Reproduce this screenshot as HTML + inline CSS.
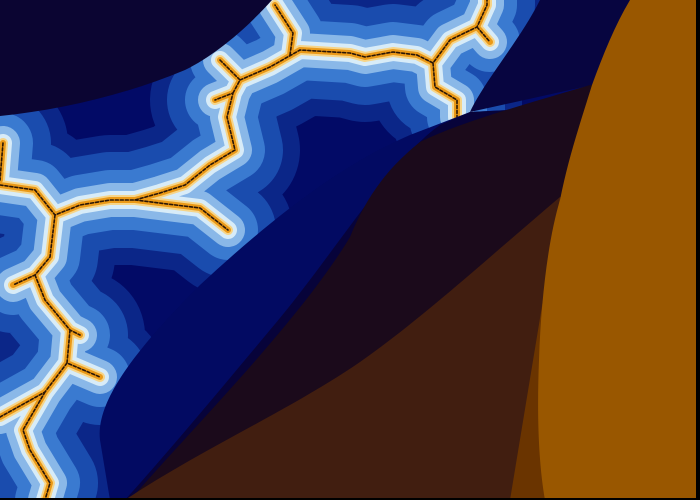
<!DOCTYPE html>
<html><head><meta charset="utf-8"><style>
html,body{margin:0;padding:0;background:#000;}
svg{display:block}
</style></head><body>
<svg width="700" height="500" viewBox="0 0 700 500">
<rect x="0" y="0" width="700" height="500" fill="#020a66"/>
<defs>
<path id="f" d="M0,185 L35,190 L55,215 L80,205 L110,200 L135,200 L160,193 L185,185 L210,165 L235,150 L227,117 L233,93 L215,100 M233,93 L240,80 L220,60 M240,80 L270,67 L300,50 L350,53 L365,57 L393,52 L417,55 L433,63 L450,40 L477,27 L487,5 L487,0 M477,27 L490,42 M433,63 L435,87 L457,100 L457,117 M290,55 L293,33 L275,5 M135,200 L200,208 L228,230 M55,215 L50,257 L35,275 L13,285 M35,275 L45,300 L70,330 L80,335 M70,330 L67,363 L100,377 M67,363 L45,392 L0,417 M45,392 L23,430 L30,450 L50,483 L45,500 M3,143 L0,180"/>
</defs>
<use href="#f" stroke="#0b2688" stroke-width="130" fill="none" stroke-linecap="round" stroke-linejoin="round"/>
<use href="#f" stroke="#1a4cae" stroke-width="96" fill="none" stroke-linecap="round" stroke-linejoin="round"/>
<use href="#f" stroke="#3a7ad0" stroke-width="60" fill="none" stroke-linecap="round" stroke-linejoin="round"/>
<use href="#f" stroke="#8ab8e8" stroke-width="34" fill="none" stroke-linecap="round" stroke-linejoin="round"/>
<use href="#f" stroke="#d8ecf8" stroke-width="18" fill="none" stroke-linecap="round" stroke-linejoin="round"/>
<path d="M0,0 L272,0 C245,30 215,55 185,70 C125,95 60,110 0,116 Z" fill="#0b0532"/>
<path d="M540,0 L640,0 L592,85 L470,112 C485,80 520,40 540,0 Z" fill="#070540"/>
<use href="#f" stroke="#f6d488" stroke-width="10" fill="none" stroke-linecap="round" stroke-linejoin="round"/>
<use href="#f" stroke="#eb9a18" stroke-width="6" fill="none" stroke-linecap="round" stroke-linejoin="round"/>
<use href="#f" stroke="#2a1606" stroke-width="1.6" fill="none" stroke-dasharray="3 2" stroke-linecap="round" stroke-linejoin="round"/>
<path d="M410,135 C340,165 270,220 200,285 C140,345 95,400 100,440 L110,500 L700,500 L700,100 L470,112 Z" fill="#020a62"/>
<path d="M440,125 C390,160 330,260 270,330 C220,390 170,450 125,500 L700,500 L700,100 L470,112 Z" fill="#07033a"/>
<path d="M350,237 C365,200 385,170 420,142 C460,122 530,103 590,85 L700,85 L700,500 L130,500 C200,420 300,320 350,237 Z" fill="#1b0a1b"/>
<path d="M125,500 C200,450 290,410 360,362 C420,320 480,265 560,197 L700,197 L700,500 Z" fill="#411e10"/>
<path d="M560,197 L510,500 L548,500 Z" fill="#6a3400"/>
<path d="M630,0 L700,0 L700,500 L545,500 C538,460 537,410 539,360 C541,300 548,240 560,200 C568,160 578,130 592,85 C603,55 615,25 630,0 Z" fill="#995700"/>
<rect x="696" y="0" width="4" height="500" fill="#000"/>
<rect x="0" y="498" width="700" height="2" fill="#000"/>
</svg>
</body></html>
